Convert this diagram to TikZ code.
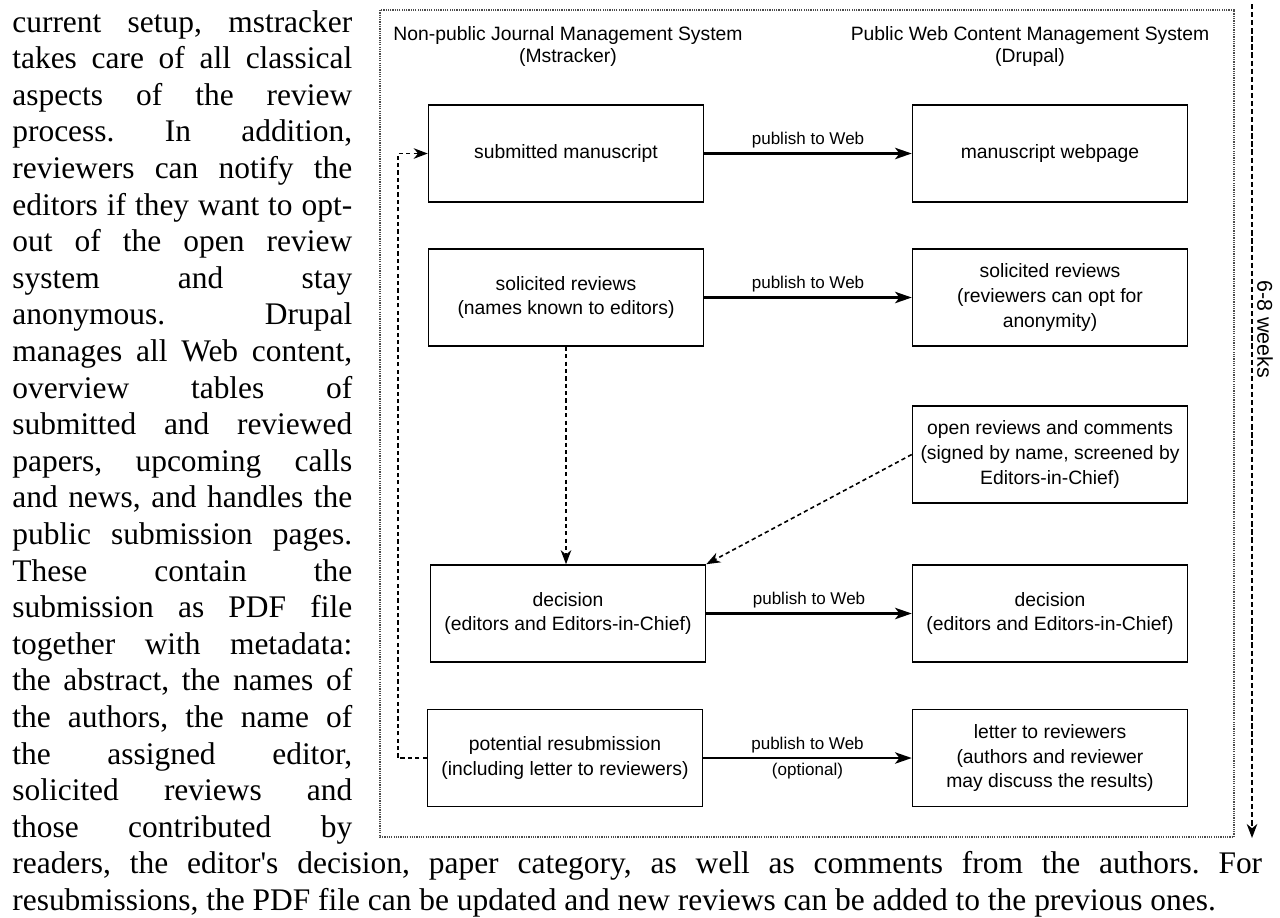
\documentclass[tikz,border=0pt]{standalone}
\usepackage{fontspec}
\setmainfont{Liberation Serif}
\newfontfamily\figsans{Liberation Sans}
\usetikzlibrary{arrows.meta}
\frenchspacing

\begin{document}
\begin{tikzpicture}[x=0.02cm, y=-0.02cm,
	stagebox/.style = {draw, line width=0.9pt, minimum width=5.5cm, minimum height=1.94cm, align=center, inner sep=1pt, font=\figsans\fontsize{11}{14}\selectfont},
	header/.style = {align=center, font=\figsans\fontsize{11}{13}\selectfont},
	publish/.style = {draw, line width=1.2pt, -{Stealth[length=9.5pt,width=6.5pt,inset=2.5pt]}},
	flow/.style = {draw, line width=0.9pt, dash pattern=on 2.4pt off 1.8pt, -{Stealth[length=8pt,width=6pt,inset=2.5pt]}},
	weblabel/.style = {font=\figsans\fontsize{9.7}{11}\selectfont, inner sep=2.5pt},
	bodyline/.style = {anchor=base west, inner sep=0pt, font=\fontsize{17.9}{20.8}\selectfont}]
	\useasboundingbox (0,0) rectangle (1280,917);

	% text column beside the figure
	\foreach \txt [count=\i from 0] in {{current setup, mstracker},{takes care of all classical},{aspects of the review},{process. In addition,},{reviewers can notify the},{editors if they want to opt-},{out of the open review},{system and stay},{anonymous. Drupal},{manages all Web content,},{overview tables of},{submitted and reviewed},{papers, upcoming calls},{and news, and handles the},{public submission pages.},{These contain the},{submission as PDF file},{together with metadata:},{the abstract, the names of},{the authors, the name of},{the assigned editor,},{solicited reviews and},{those contributed by}}
		\node [bodyline] (ln\i) at (12, 32+36.6*\i) {\makebox[6.8cm][s]{\txt}};
	\node [bodyline] (ln23) at (12,873.8) {\makebox[25cm][s]{readers, the editor\textquotesingle s decision, paper category, as well as comments from the authors. For}};
	\node [bodyline] (ln24) at (12,910.4) {resubmissions, the PDF file can be updated and new reviews can be added to the previous ones.};

	% figure frame
	\draw [dash pattern=on 0.7pt off 0.6pt, line width=1.4pt, black!70] (380,10) rectangle (1234,837);
	\node [header] (jms) at (568,46.5) {Non-public Journal Management System\\(Mstracker)};
	\node [header] (cms) at (1030,46.5) {Public Web Content Management System\\(Drupal)};

	\node [stagebox] (sub) at (566,153.5) {submitted manuscript};
	\node [stagebox] (web) at (1050,153.5) {manuscript webpage};
	\node [stagebox] (sol) at (566,297.5) {solicited reviews\\(names known to editors)};
	\node [stagebox] (solpub) at (1050,297.5) {solicited reviews\\(reviewers can opt for\\anonymity)};
	\node [stagebox] (open) at (1050,454.5) {open reviews and comments\\(signed by name, screened by\\Editors-in-Chief)};
	\node [stagebox] (dec) at (568,613.5) {decision\\(editors and Editors-in-Chief)};
	\node [stagebox] (decpub) at (1050,613.5) {decision\\(editors and Editors-in-Chief)};
	\node [stagebox] (resub) at (565,758) {potential resubmission\\(including letter to reviewers)};
	\node [stagebox] (letter) at (1050,758) {letter to reviewers\\(authors and reviewer\\may discuss the results)};

	\draw [publish] (sub) -- node [weblabel, above] (pw1) {publish to Web} (web);
	\draw [publish] (sol) -- node [weblabel, above] (pw2) {publish to Web} (solpub);
	\draw [publish] (dec) -- node [weblabel, above] (pw3) {publish to Web} (decpub);
	\draw [publish] (resub) -- node [weblabel, above] (pw4) {publish to Web} node [weblabel, below] (opt) {(optional)} (letter);

	\draw [flow] (sol.south) -- (sol.south |- dec.north);
	\draw [flow] (open.west) -- (dec.north east);
	\draw [flow] (resub.west) -- ++(-29,0) |- (sub.west);

	% review period
	\coordinate (wtop) at (1252,4);
	\coordinate (wend) at (1252,838);
	\draw [flow, dash pattern=on 3pt off 1.6pt] (wtop) -- (wend);
	\node [font=\figsans\fontsize{12.2}{14}\selectfont, rotate=-90] (weeks) at (1265,329) {6-8 weeks};
\end{tikzpicture}
\end{document}
